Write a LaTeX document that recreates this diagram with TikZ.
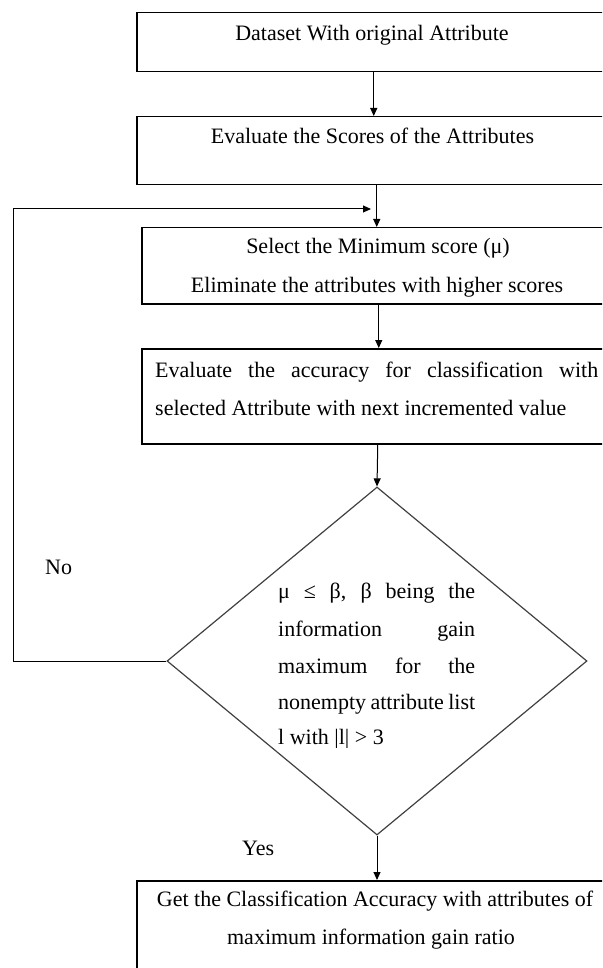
\documentclass[tikz,border=0pt]{standalone}
\usepackage{fontspec}
\setmainfont{Liberation Serif}
\usetikzlibrary{arrows.meta,shapes.geometric}
\tikzset{
  box/.style={draw=black, line width=1.5pt, rectangle, inner sep=0pt, anchor=north west},
  dec/.style={draw=black!75, line width=1.2pt, diamond, inner sep=0pt},
  arr/.style={draw=black, line width=1pt, -{Triangle[length=8pt,width=7pt]}},
  txt/.style={inner sep=0pt, font=\fontsize{22}{26}\selectfont, text=black},
}
\begin{document}
\begin{tikzpicture}[x=1pt,y=-1pt]
\useasboundingbox (0,0) rectangle (602,968);
\clip (0,0) rectangle (602,968);
% boxes
\node[box, minimum width=474pt, minimum height=59pt] (b1) at (136,12) {};
\node[box, minimum width=480pt, minimum height=68pt] (b2) at (136,116) {};
\node[box, minimum width=474pt, minimum height=76pt] (b3) at (141,227) {};
\node[box, minimum width=472pt, minimum height=95pt] (b4) at (141,348) {};
\node[dec, minimum width=420pt, minimum height=348pt] (d) at (377,661) {};
\node[box, minimum width=484pt, minimum height=120pt] (b5) at (136,880) {};
% texts
\node[txt, anchor=base] (t1) at (372,41) {Dataset With original Attribute};
\node[txt, anchor=base] (t2) at (372.5,144) {Evaluate the Scores of the Attributes};
\node[txt, anchor=base] (t3a) at (378,254) {Select the Minimum score (μ)};
\node[txt, anchor=base] (t3b) at (377,292) {Eliminate the attributes with higher scores};
\node[txt, anchor=base west] (t4a) at (155,377) {\makebox[443pt][s]{Evaluate the accuracy for classification with}};
\node[txt, anchor=base west] (t4b) at (155,415) {selected Attribute with next incremented value};
\node[txt, anchor=base west] (td1) at (278,598) {\makebox[197pt][s]{μ \ ≤ \ β, \ β \ being \ the}};
\node[txt, anchor=base west] (td2) at (278,636) {\makebox[197pt][s]{information gain}};
\node[txt, anchor=base west] (td3) at (278,673) {\makebox[197pt][s]{maximum for the}};
\node[txt, anchor=base west] (td4) at (278,709) {\makebox[197pt][s]{nonempty attribute list}};
\begin{scope}
\clip (270,720) rectangle (480,747);
\node[txt, anchor=base west] (td5) at (278,744) {l with |l| > 3};
\end{scope}
\node[txt, anchor=base] (t5a) at (375,906) {Get the Classification Accuracy with attributes of};
\node[txt, anchor=base] (t5b) at (371,944) {maximum information gain ratio};
\node[txt, anchor=base west] (no) at (45,574) {No};
\node[txt, anchor=base west] (yes) at (242,855) {Yes};
% connectors
\draw[arr] (b1.south) -- (b1.south |- b2.north);
\draw[arr] (b2.south) -- (b2.south |- b3.north);
\draw[arr] (b3.south) -- (b3.south |- b4.north);
\draw[arr] (b4.south) -- (d.north);
\draw[arr] (d.south) -- (d.south |- b5.north);
\coordinate (loopx) at (13,209);
\coordinate (loopend) at (371,209);
\draw[arr] (d.west) -| (loopx) -- (loopend);
\end{tikzpicture}
\end{document}
